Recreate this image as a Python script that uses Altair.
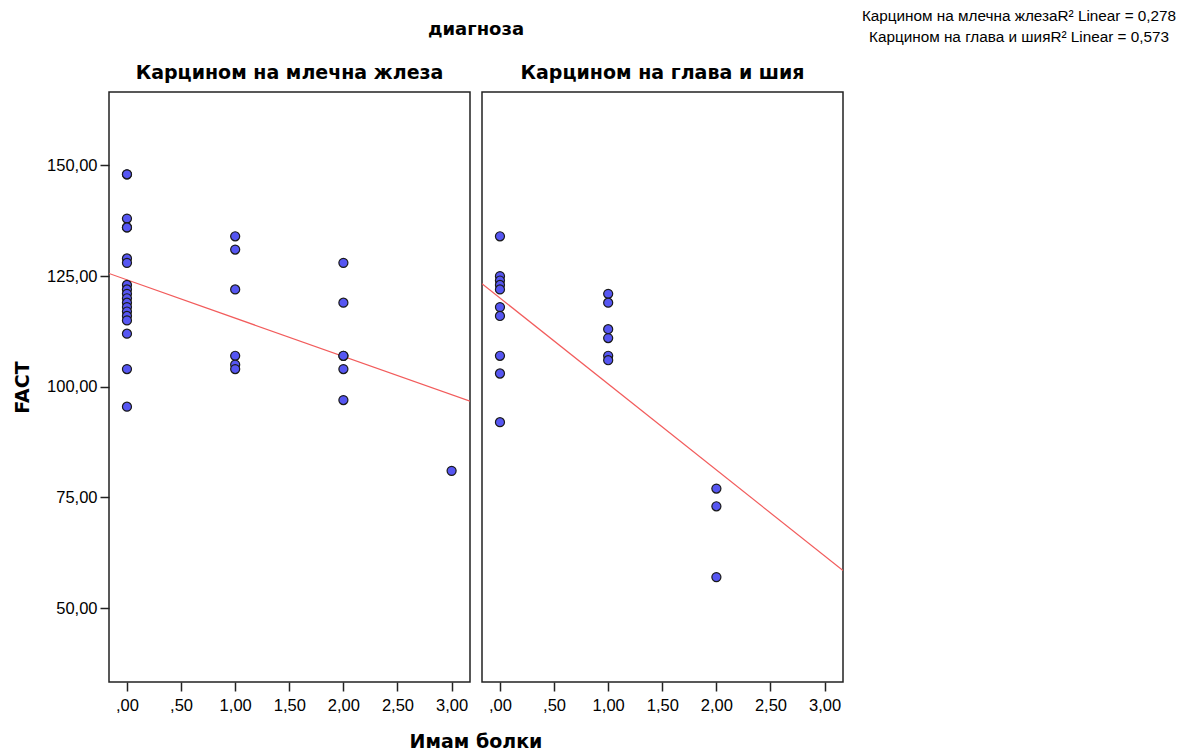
import altair as alt
import pandas as pd

diag_names = ["Карцином на млечна жлеза", "Карцином на глава и шия"]

# Карцином на млечна жлеза
breast_pain = [0, 0, 0, 0, 0, 0, 0, 0, 0, 0, 0, 0, 0, 0, 0, 0, 0, 0, 0,
               1, 1, 1, 1, 1, 1,
               2, 2, 2, 2, 2, 2,
               3]
breast_fact = [148, 148, 138, 136, 136, 129, 128, 123, 122, 121, 120, 119, 118, 117, 116, 115, 112, 104, 95.5,
               134, 131, 122, 107, 105, 104,
               128, 119, 107, 107, 104, 97,
               81]

# Карцином на глава и шия
head_pain = [0, 0, 0, 0, 0, 0, 0, 0, 0, 0,
             1, 1, 1, 1, 1, 1,
             2, 2, 2]
head_fact = [134, 125, 124, 123, 122, 118, 116, 107, 103, 92,
             121, 119, 113, 111, 107, 106,
             77, 73, 57]

legend_lines = ["Карцином на млечна жлезаR² Linear = 0,278",
                "Карцином на глава и шияR² Linear = 0,573"]
x_title = "Имам болки"
facet_title = "диагноза"

x_ticks = [0, 0.5, 1, 1.5, 2, 2.5, 3]
y_ticks = [50, 75, 100, 125, 150]
x_domain = [-0.166, 3.17]
y_domain = [33.3, 166.6]

pts_df = pd.DataFrame({
    "diag": [diag_names[0]] * len(breast_pain) + [diag_names[1]] * len(head_pain),
    "pain": breast_pain + head_pain,
    "fact": breast_fact + head_fact,
    "kind": "pt",
})
leg_df = pd.DataFrame({"diag": [diag_names[1]], "label": ["\n".join(legend_lines)], "kind": ["legend"]})
xt_df = pd.DataFrame({"diag": [diag_names[0]], "label": [x_title], "kind": ["xtitle"]})
ft_df = pd.DataFrame({"diag": [diag_names[0]], "label": [facet_title], "kind": ["ftitle"]})
df = pd.concat([pts_df, leg_df, xt_df, ft_df], ignore_index=True)

FONT = "Liberation Sans"
TFONT = "DejaVu Sans"
W, H = 361, 590

xscale = alt.Scale(domain=x_domain, nice=False, zero=False)
yscale = alt.Scale(domain=y_domain, nice=False, zero=False)

x_label = "datum.value < 1 ? replace(format(datum.value, '.2f'), '0.', ',') : replace(format(datum.value, '.2f'), '.', ',')"
y_label = "replace(format(datum.value, '.2f'), '.', ',')"

base = alt.Chart()

fit = base.transform_filter("datum.kind == 'pt'").transform_regression(
    "pain", "fact", groupby=["diag"], extent=x_domain
).mark_line(color="#F25C5C", strokeWidth=1.2, clip=True).encode(
    x=alt.X("pain:Q", scale=xscale),
    y=alt.Y("fact:Q", scale=yscale),
)

pts = base.transform_filter("datum.kind == 'pt'").mark_circle(
    size=82, color="#5656F2", opacity=1, stroke="#1a1a1a", strokeWidth=1.2
).encode(
    x=alt.X("pain:Q", scale=xscale,
            axis=alt.Axis(values=x_ticks, labelExpr=x_label, title=None, labelPadding=6)),
    y=alt.Y("fact:Q", scale=yscale,
            axis=alt.Axis(values=y_ticks, labelExpr=y_label, title="FACT")),
)

leg = base.transform_filter("datum.kind == 'legend'").mark_text(
    font=FONT, fontSize=15.3, align="center", baseline="middle", lineBreak="\n", lineHeight=21, color="#000"
).encode(
    text="label:N",
    x=alt.value(537),
    y=alt.value(-76),
)

xt = base.transform_filter("datum.kind == 'xtitle'").mark_text(
    font=TFONT, fontSize=19, fontWeight="bold", align="center", baseline="middle", color="#000"
).encode(
    text="label:N",
    x=alt.value(W + 6),
    y=alt.value(H + 60),
)

ft = base.transform_filter("datum.kind == 'ftitle'").mark_text(
    font=TFONT, fontSize=18, fontWeight="bold", align="center", baseline="middle", color="#000"
).encode(
    text="label:N",
    x=alt.value(W + 6),
    y=alt.value(-62),
)

chart = alt.layer(fit, pts, leg, xt, ft, data=df).properties(
    width=W, height=H
).facet(
    column=alt.Column("diag:N", sort=diag_names, title=None,
                      header=alt.Header(labelFont=TFONT, labelFontSize=19, labelFontWeight="bold",
                                        labelColor="#000", labelPadding=9)),
    spacing=12,
    bounds="flush",
).properties(
    padding={"left": 5, "top": 0, "right": 5, "bottom": 0},
).configure_view(
    stroke="#222", strokeWidth=1.5
).configure_axis(
    domain=False, grid=False, ticks=True, tickColor="#222", tickWidth=1.5, tickSize=9,
    labelFont=FONT, labelFontSize=16.5, labelColor="#000", labelPadding=3,
    titleFont=TFONT, titleFontSize=19, titleFontWeight="bold", titleColor="#000", titlePadding=14,
)

chart.save("out.html", embed_options={"renderer": "svg", "actions": False})
